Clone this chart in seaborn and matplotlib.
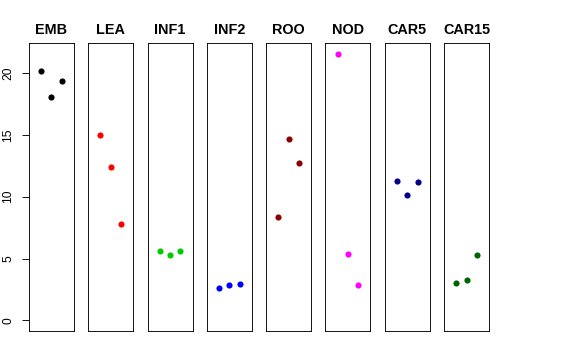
import matplotlib
matplotlib.use("Agg")
import matplotlib.pyplot as plt
import numpy as np
import pandas as pd
import seaborn as sns

# one panel per tissue, three replicates each
tissues = ["EMB", "LEA", "INF1", "INF2", "ROO", "NOD", "CAR5", "CAR15"]
colors = ["#000000", "#FF0000", "#00CD00", "#0000FF",
          "#8B0000", "#FF00FF", "#00008B", "#006400"]
replicate = [1, 2, 3]
emb = [20.16, 18.08, 19.35]
lea = [14.98, 12.41, 7.83]
inf1 = [5.61, 5.32, 5.64]
inf2 = [2.59, 2.83, 2.97]
roo = [8.37, 14.63, 12.74]
nod = [21.57, 5.40, 2.89]
car5 = [11.31, 10.12, 11.15]
car15 = [3.05, 3.29, 5.32]
yticks = [0, 5, 10, 15, 20]

values = [emb, lea, inf1, inf2, roo, nod, car5, car15]
df = pd.DataFrame({
    "tissue": np.repeat(tissues, len(replicate)),
    "rep": replicate * len(tissues),
    "value": np.concatenate(values),
})

sns.set_style("white")
plt.rcParams["font.family"] = ["Liberation Sans", "DejaVu Sans"]
plt.rcParams["text.color"] = "black"
plt.rcParams["ytick.color"] = "black"
plt.rcParams["axes.labelcolor"] = "black"

fig, axes = plt.subplots(1, len(tissues), figsize=(8, 5), dpi=72, sharey=True)
fig.subplots_adjust(left=29/576, right=489/576, top=1-43/360, bottom=1-331/360,
                    wspace=0.318)

ymax = df["value"].max()
for i, (ax, t) in enumerate(zip(axes, tissues)):
    sub = df[df["tissue"] == t]
    sns.scatterplot(data=sub, x="rep", y="value", ax=ax, color=colors[i],
                    s=38, linewidth=0, legend=False)
    ax.set_xlim(-0.16, 4.16)
    ax.set_ylim(-0.04 * ymax, 1.04 * ymax)
    ax.set_xticks([])
    ax.set_xlabel("")
    ax.set_ylabel("")
    ax.set_title(t, fontsize=14.4, fontweight="bold", pad=8.5, color="black")
    for sp in ax.spines.values():
        sp.set_visible(True)
        sp.set_color("black")
        sp.set_linewidth(0.9)
    if i == 0:
        ax.set_yticks(yticks)
        ax.tick_params(axis="y", left=True, length=7, width=0.9, pad=8,
                       labelsize=12, labelrotation=90, colors="black")
        for lab in ax.get_yticklabels():
            lab.set_va("center")
    else:
        ax.tick_params(axis="y", left=False, labelleft=False)

fig.savefig("out.png", dpi=72)
